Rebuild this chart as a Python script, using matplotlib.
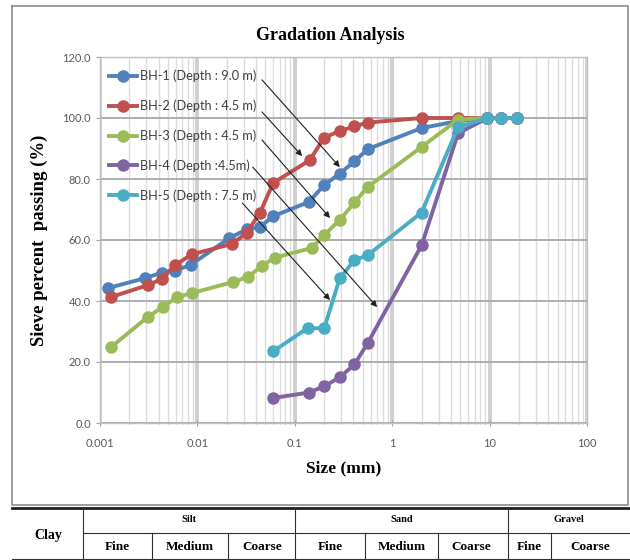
import matplotlib.pyplot as plt
from matplotlib.ticker import LogLocator, FixedLocator, FuncFormatter, NullFormatter

# grain size (mm) and percent passing for each borehole
bh1_size = [0.0012, 0.0029, 0.0043, 0.0059, 0.0085, 0.021, 0.032, 0.044, 0.06, 0.14, 0.2, 0.29, 0.41, 0.56, 2.0, 4.75, 9.5, 13.2, 19.0]
bh1_pass = [44.2, 47.5, 49.3, 50.0, 51.8, 60.5, 63.5, 64.3, 67.8, 72.5, 78.0, 81.8, 85.8, 89.8, 96.7, 99.0, 100, 100, 100]

bh2_size = [0.0013, 0.0031, 0.0043, 0.0059, 0.0088, 0.0226, 0.032, 0.044, 0.06, 0.143, 0.2, 0.29, 0.41, 0.56, 2.0, 4.75, 9.5, 13.2, 19.0]
bh2_pass = [41.3, 45.2, 47.2, 51.8, 55.3, 58.7, 62.3, 69.0, 78.7, 86.2, 93.6, 95.7, 97.3, 98.5, 100, 100, 100, 100, 100]

bh3_size = [0.0013, 0.0031, 0.0044, 0.0062, 0.0088, 0.023, 0.033, 0.046, 0.062, 0.15, 0.2, 0.29, 0.41, 0.56, 2.0, 4.75, 9.5, 13.2, 19.0]
bh3_pass = [24.9, 34.8, 38.0, 41.3, 42.6, 46.2, 47.9, 51.5, 54.2, 57.4, 61.6, 66.6, 72.3, 77.4, 90.5, 99.5, 100, 100, 100]

bh4_size = [0.06, 0.14, 0.2, 0.29, 0.41, 0.56, 2.0, 4.75, 9.5, 13.2, 19.0]
bh4_pass = [8.2, 10.0, 12.0, 15.0, 19.2, 26.2, 58.2, 95.0, 100, 100, 100]

bh5_size = [0.06, 0.137, 0.2, 0.29, 0.41, 0.56, 2.0, 4.75, 9.5, 13.2, 19.0]
bh5_pass = [23.5, 31.2, 31.0, 47.5, 53.4, 55.0, 69.0, 97.0, 100, 100, 100]

labels = ["BH-1 (Depth : 9.0 m)", "BH-2 (Depth : 4.5 m)", "BH-3 (Depth : 4.5 m)",
          "BH-4 (Depth :4.5m)", "BH-5 (Depth : 7.5 m)"]
colors = ["#4F81BD", "#C0504D", "#9BBB59", "#8064A2", "#4BACC6"]

# arrows from the legend text to each curve: (tail, head) in data units
arrow_tail = [(0.046, 112.5), (0.046, 102.0), (0.046, 92.8), (0.037, 83.9), (0.029, 72.1)]
arrow_head = [(0.29, 83.9), (0.119, 87.5), (0.23, 67.2), (0.70, 38.0), (0.23, 40.3)]

plt.rcParams['font.family'] = ['Lato', 'DejaVu Sans']
SERIF = 'Liberation Serif'

fig = plt.figure(figsize=(6.3, 5.6), dpi=100)
ax = fig.add_axes([100/630, 1-423/560, 487/630, 366/560])

series = [(bh1_size, bh1_pass), (bh2_size, bh2_pass), (bh3_size, bh3_pass),
          (bh4_size, bh4_pass), (bh5_size, bh5_pass)]
for (sx, sy), lab, c in zip(series, labels, colors):
    ax.plot(sx, sy, '-o', color=c, lw=2.8, ms=8, label=lab, zorder=3)

ax.set_xscale('log')
ax.set_xlim(0.001, 100)
ax.set_ylim(0, 120)
ax.set_yticks(range(0, 121, 20))
ax.yaxis.set_major_formatter(FuncFormatter(lambda v, p: '%.1f' % v))
ax.xaxis.set_major_locator(FixedLocator([0.001, 0.01, 0.1, 1, 10, 100]))
ax.xaxis.set_major_formatter(FuncFormatter(lambda v, p: ('%g' % v)))
ax.xaxis.set_minor_locator(LogLocator(base=10, subs=range(2, 10)))
ax.xaxis.set_minor_formatter(NullFormatter())

ax.grid(True, which='minor', axis='x', color='#DCDCDC', lw=1.0)
ax.grid(True, which='major', axis='x', color='#D0D0D0', lw=2.8)
ax.grid(True, which='major', axis='y', color='#A8A8A8', lw=1.3)
ax.set_axisbelow(True)

for s in ax.spines.values():
    s.set_color('#BFBFBF')
    s.set_linewidth(1.0)
ax.tick_params(which='both', colors='#A0A0A0', labelcolor='#595959', labelsize=8)
ax.tick_params(axis='x', which='major', length=4, direction='inout', pad=9)
ax.tick_params(axis='x', which='minor', length=2, direction='inout')
ax.tick_params(axis='y', length=3, direction='out')

ax.set_xlabel('Size (mm)', fontfamily=SERIF, fontweight='bold', fontsize=12.5, labelpad=8)
ax.set_ylabel('Sieve percent  passing (%)', fontfamily=SERIF, fontweight='bold', fontsize=13.5, labelpad=10)

leg = ax.legend(loc='upper left', frameon=False, fontsize=9.2, labelspacing=1.36,
                handlelength=2.2, handletextpad=0.2, borderaxespad=0.3,
                bbox_to_anchor=(0.0, 0.99))
for t in leg.get_texts():
    t.set_color('#404040')

for tail, head in zip(arrow_tail, arrow_head):
    ax.annotate('', xy=head, xytext=tail,
                arrowprops=dict(arrowstyle='-|>', color='#202020', lw=0.8,
                                mutation_scale=9, shrinkA=0, shrinkB=0), zorder=4)

fig.text(330/630, 1-35/560, 'Gradation Analysis', ha='center', va='center',
         fontfamily=SERIF, fontweight='bold', fontsize=13)

# frame around the chart and the soil classification table underneath
ov = fig.add_axes([0, 0, 1, 1], zorder=-1)
ov.set_xlim(0, 630)
ov.set_ylim(560, 0)
ov.axis('off')
ov.plot([12, 628, 628, 12, 12], [6, 6, 505, 505, 6], color='#8C8C8C', lw=1.2)
ov.plot([12, 630], [508, 508], color='#202020', lw=2.0)
ov.plot([83, 630], [533, 533], color='#303030', lw=0.8)
ov.plot([12, 630], [558.5, 558.5], color='#303030', lw=0.8)
for xv in [83, 295, 508]:
    ov.plot([xv, xv], [508, 560], color='#303030', lw=0.8)
for xv in [152, 228, 365, 438, 551]:
    ov.plot([xv, xv], [533, 560], color='#303030', lw=0.8)

tkw = dict(ha='center', va='center', fontfamily=SERIF, fontweight='bold')
ov.text(48, 535, 'Clay', fontsize=10, **tkw)
ov.text(189, 520, 'Silt', fontsize=7.5, **tkw)
ov.text(402, 520, 'Sand', fontsize=7.5, **tkw)
ov.text(569, 520, 'Gravel', fontsize=7.5, **tkw)
for xc, name in zip([117, 190, 262, 330, 402, 471, 529, 590],
                    ['Fine', 'Medium', 'Coarse', 'Fine', 'Medium', 'Coarse', 'Fine', 'Coarse']):
    ov.text(xc, 547, name, fontsize=9.5, **tkw)

fig.savefig('out.png', dpi=100)
